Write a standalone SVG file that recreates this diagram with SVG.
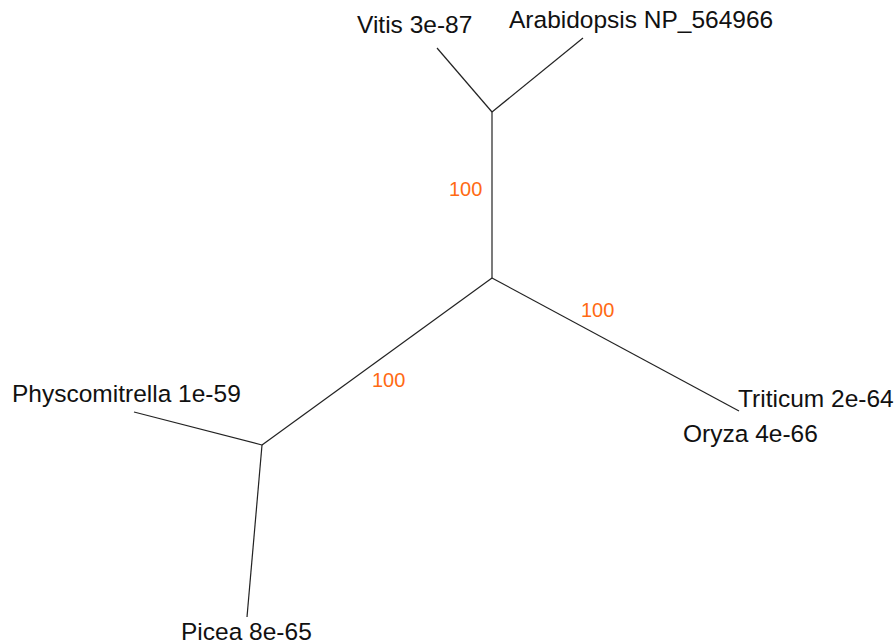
<svg xmlns="http://www.w3.org/2000/svg" width="896" height="644" viewBox="0 0 896 644">
<style>
.lbl{font-family:"Liberation Sans",Arial,sans-serif;font-size:24.5px;fill:#111}
.bs{font-family:"Liberation Sans",Arial,sans-serif;font-size:20px;fill:#ff6a13}
.br{stroke:#222;stroke-width:1.2;fill:none}
</style>
<rect width="896" height="644" fill="#fff"/>
<g id="connectors">
<line class="br" x1="492" y1="278" x2="492" y2="112"/>
<line class="br" x1="492" y1="112" x2="437" y2="48"/>
<line class="br" x1="492" y1="112" x2="583" y2="38"/>
<line class="br" x1="492" y1="278" x2="739" y2="411"/>
<line class="br" x1="492" y1="278" x2="262" y2="445"/>
<line class="br" x1="262" y1="445" x2="134" y2="412"/>
<line class="br" x1="262" y1="445" x2="247" y2="617"/>
</g>
<g id="bootstrap">
<text class="bs" x="449" y="196">100</text>
<text class="bs" x="581" y="317">100</text>
<text class="bs" x="372" y="387">100</text>
</g>
<g id="vitis"><text class="lbl" x="357" y="33">Vitis 3e-87</text></g>
<g id="arabidopsis"><text class="lbl" x="509" y="28">Arabidopsis NP_564966</text></g>
<g id="triticum"><text class="lbl" x="738" y="407">Triticum 2e-64</text></g>
<g id="oryza"><text class="lbl" x="683" y="442">Oryza 4e-66</text></g>
<g id="physcomitrella"><text class="lbl" x="12" y="402">Physcomitrella 1e-59</text></g>
<g id="picea"><text class="lbl" x="181" y="640">Picea 8e-65</text></g>
</svg>
